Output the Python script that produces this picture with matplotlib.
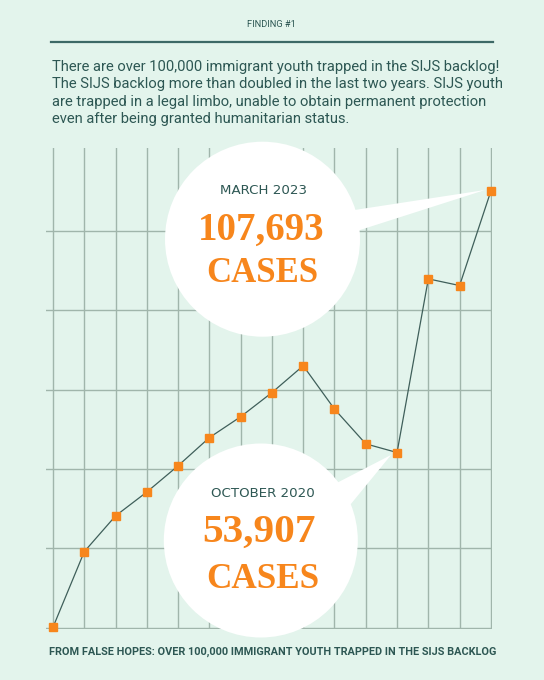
import matplotlib
matplotlib.use("Agg")
import matplotlib.pyplot as plt
from matplotlib.patches import Ellipse, Polygon
import numpy as np

# backlog size, one point per report
cases = [17980, 33520, 40880, 45790, 51190, 56980, 61270, 66240,
         71760, 62840, 55690, 53907, 89630, 88260, 107693]

intro_lines = [
    "There are over 100,000 immigrant youth trapped in the SIJS backlog!",
    "The SIJS backlog more than doubled in the last two years. SIJS youth",
    "are trapped in a legal limbo, unable to obtain permanent protection",
    "even after being granted humanitarian status.",
]
caption = "FROM FALSE HOPES: OVER 100,000 IMMIGRANT YOUTH TRAPPED IN THE SIJS BACKLOG"
callouts = [
    ("MARCH 2023", "107,693", "CASES"),
    ("OCTOBER 2020", "53,907", "CASES"),
]

BG = "#e3f4ec"
TEAL = "#2d5753"
ORANGE = "#f7861c"
GRID = "#a0b5ab"
W, H = 544, 680

fig = plt.figure(figsize=(W / 100, H / 100), dpi=100, facecolor=BG)
renderer = fig.canvas.get_renderer()


def fx(x):
    return x / W


def fy(y):
    return 1 - y / H


def fit_text(x, y, s, width, ha="left", **kw):
    # size the text so that it spans the given pixel width
    t = fig.text(fx(x), fy(y), s, ha=ha, va="baseline", fontsize=10, **kw)
    w = t.get_window_extent(renderer).width
    t.set_fontsize(10 * width / w)
    return t


# header
fit_text(271.5, 27.3, "FINDING #1", 49, ha="center", color=TEAL, family="Roboto")
fig.add_artist(plt.Line2D([fx(51), fx(493)], [fy(42), fy(42)], color="#3d6966", lw=1.6))
for i, line in enumerate(intro_lines):
    t = fig.text(fx(51.7), fy(71 + 17.4 * i), line, va="baseline", color=TEAL, family="Roboto")
    if i == 0:
        t.set_fontsize(10)
        size = 10 * 447 / t.get_window_extent(renderer).width
    t.set_fontsize(size)

# chart
ax = fig.add_axes([fx(45.7), fy(629), (491.5 - 45.7) / W, (629 - 148) / H])
ax.set_facecolor("none")
x = np.arange(len(cases))
lo, step = 17854, 16320
ax.set_xlim(-0.234, 14.02)
ax.set_ylim(lo - 250, lo + 98700)
ax.set_xticks(x)
ax.set_yticks(np.arange(lo, lo + 6 * step, step)[:6])
ax.grid(True, color=GRID, lw=1.0)
ax.set_axisbelow(True)
ax.tick_params(length=0, labelleft=False, labelbottom=False)
for sp in ax.spines.values():
    sp.set_visible(False)

ax.plot(x, cases, color="#3f5f5a", lw=0.9, zorder=2)
ax.plot(x, cases, ls="none", marker="s", ms=6.2, color=ORANGE, zorder=3, clip_on=False)

# speech bubbles
bubbles = [
    dict(c=(262.5, 239.2), r=97.5, tail=[(335, 213), (485, 190), (335, 238)],
         label_y=(194, 240, 281.7), label_x=(264, 261, 262), widths=(87, 125, 112)),
    dict(c=(260.8, 540.5), r=97, tail=[(320, 491.6), (391, 455), (330, 529.5)],
         label_y=(497.3, 541.7, 588.3), label_x=(263, 259, 262.7), widths=(104, 112, 113)),
]
for b, (when, num, unit) in zip(bubbles, callouts):
    cx, cy = b["c"]
    ax.add_patch(Ellipse((fx(cx), fy(cy)), 2 * b["r"] / W, 2 * b["r"] / H,
                         transform=fig.transFigure, facecolor="white",
                         edgecolor="none", zorder=1, clip_on=False))
    ax.add_patch(Polygon([(fx(px), fy(py)) for px, py in b["tail"]], closed=True,
                         transform=fig.transFigure, facecolor="white",
                         edgecolor="none", zorder=1, clip_on=False))
    fit_text(b["label_x"][0], b["label_y"][0], when, b["widths"][0], ha="center",
             color=TEAL, family="DejaVu Sans")
    fit_text(b["label_x"][1], b["label_y"][1], num, b["widths"][1], ha="center",
             color=ORANGE, family="Liberation Serif", weight="bold")
    fit_text(b["label_x"][2], b["label_y"][2], unit, b["widths"][2], ha="center",
             color=ORANGE, family="Liberation Serif", weight="bold")

fit_text(49, 654.3, caption, 445, color=TEAL, family="Roboto", weight="bold")

fig.savefig("out.png", dpi=100, facecolor=BG)
